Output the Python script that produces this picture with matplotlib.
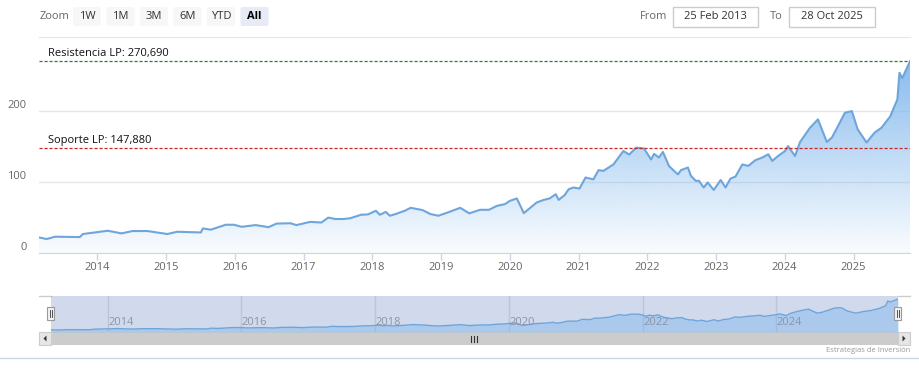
import numpy as np
import pandas as pd
import matplotlib
matplotlib.use("Agg")
import matplotlib.pyplot as plt
import matplotlib.dates as mdates
import matplotlib.transforms as mtransforms
from matplotlib.patches import Rectangle, FancyBboxPatch

plt.rcParams['font.family'] = ['Open Sans', 'DejaVu Sans']

# price series
dates = [
    "2013-02-25", "2013-04-07", "2013-05-21", "2013-09-30", "2013-10-16",
    "2014-02-25", "2014-05-10", "2014-07-07", "2014-09-24", "2015-01-08",
    "2015-03-01", "2015-07-05", "2015-07-16", "2015-08-27", "2015-11-14",
    "2015-12-27", "2016-02-07", "2016-04-21", "2016-06-29", "2016-08-10",
    "2016-10-23", "2016-11-24", "2017-02-06", "2017-04-05", "2017-05-12",
    "2017-06-18", "2017-07-30", "2017-09-05", "2017-11-02", "2017-12-09",
    "2018-01-20", "2018-02-10", "2018-03-14", "2018-04-04", "2018-05-05",
    "2018-06-22", "2018-07-24", "2018-09-25", "2018-11-06", "2018-12-18",
    "2019-02-14", "2019-04-13", "2019-05-31", "2019-07-27", "2019-09-13",
    "2019-10-25", "2019-12-07", "2020-01-02", "2020-02-08", "2020-03-16",
    "2020-05-24", "2020-06-30", "2020-07-31", "2020-09-02", "2020-09-17",
    "2020-10-19", "2020-11-09", "2020-12-05", "2021-01-06", "2021-02-07",
    "2021-03-21", "2021-04-17", "2021-05-13", "2021-07-05", "2021-08-27",
    "2021-09-27", "2021-11-03", "2021-12-15", "2022-01-21", "2022-02-06",
    "2022-03-04", "2022-03-25", "2022-04-26", "2022-05-23", "2022-06-13",
    "2022-06-29", "2022-08-05", "2022-08-21", "2022-09-16", "2022-10-02",
    "2022-10-28", "2022-11-18", "2022-12-20", "2023-01-26", "2023-02-21",
    "2023-03-19", "2023-04-15", "2023-05-21", "2023-06-22", "2023-07-29",
    "2023-09-04", "2023-10-06", "2023-10-27", "2023-11-27", "2024-01-03",
    "2024-01-19", "2024-02-25", "2024-03-23", "2024-05-15", "2024-06-26",
    "2024-08-12", "2024-09-08", "2024-10-10", "2024-11-16", "2024-12-23",
    "2025-01-23", "2025-03-11", "2025-04-23", "2025-05-30", "2025-07-15",
    "2025-08-22", "2025-09-02", "2025-09-17", "2025-10-28",
]
values = [
    22, 19.7, 23, 22.5, 26.8,
    31.4, 27.7, 31, 31, 26.8,
    30, 29, 34.7, 32.9, 39.9,
    39.9, 37, 39.4, 36.5, 41.5,
    42, 39.4, 44, 43, 50,
    48, 48, 49, 54, 54.5,
    59.6, 54, 58, 52.6, 55,
    59.6, 63.8, 60.6, 55, 52.6,
    58, 63.8, 56, 61, 61,
    66.6, 69, 73.7, 77, 56.3,
    71.4, 75, 77, 83, 75,
    81.7, 90, 92.5, 91, 106.6,
    104, 117, 116, 125, 144,
    139, 148.8, 147.5, 132, 140,
    134.8, 142.7, 123, 116, 111,
    117, 120.7, 109, 101.8, 102,
    92.5, 99.6, 89, 103, 92.5,
    105, 108, 125, 123, 131,
    134.8, 139.4, 130, 137, 144,
    151, 137, 156.8, 177, 188.7,
    156.8, 163, 179, 198, 200.4,
    174.6, 156, 170, 177, 193,
    217, 254.5, 247, 270.69,
]

years = list(range(2014, 2026))
nav_years = [2014, 2016, 2018, 2020, 2022, 2024]
y_ticks = [0, 100, 200]
resistencia = 270.690
soporte = 147.880
zoom_buttons = ["1W", "1M", "3M", "6M", "YTD", "All"]
date_from = "25 Feb 2013"
date_to = "28 Oct 2025"

W, H = 920, 374
fig = plt.figure(figsize=(9.2, 3.74), dpi=100)

def px(x0, y0, x1, y1):
    return [x0 / W, 1 - y1 / H, (x1 - x0) / W, (y1 - y0) / H]

deco = fig.add_axes([0, 0, 1, 1], zorder=0)
deco.set_xlim(0, W)
deco.set_ylim(H, 0)
deco.axis('off')

x = mdates.date2num(pd.to_datetime(dates))
v = np.array(values)

# ---- main chart
ax = fig.add_axes(px(39, 37, 910, 253), zorder=2)
ax.set_facecolor('none')
ax.set_xlim(x[0], x[-1])
ax.set_ylim(0, 305)
for yv in y_ticks:
    ax.axhline(yv, color='#e6e6e6', lw=1, zorder=0)

poly = ax.fill_between(x, v, 0, color='none', lw=0)
grad = np.zeros((256, 1, 4))
grad[:, 0, :3] = np.array([124, 181, 236]) / 255
grad[:, 0, 3] = np.linspace(0.9, 0.04, 256)
im = ax.imshow(grad, extent=[x[0], x[-1], 0, v.max()], origin='upper',
               aspect='auto', interpolation='bicubic', zorder=1)
im.set_clip_path(poly.get_paths()[0], transform=ax.transData)
ax.plot(x, v, color='#6ea6dc', lw=1.5, zorder=3)

for lvl, col, name in [(resistencia, '#2e7d32', 'Resistencia LP'),
                       (soporte, '#c62828', 'Soporte LP')]:
    ax.axhline(lvl, color=col, lw=0.9, ls=(0, (2.5, 1.5)), zorder=4)
    tr = mtransforms.offset_copy(ax.transData, fig=fig, x=9, y=2, units='dots')
    ax.text(x[0], lvl, f"{name}: {lvl:.3f}".replace('.', ','), transform=tr,
            fontsize=8, color='#111111', va='bottom', ha='left', zorder=5)

ax.set_yticks(y_ticks)
ax.set_yticklabels([str(t) for t in y_ticks])
for lab in ax.get_yticklabels():
    lab.set_va('bottom')
ax.tick_params(axis='y', length=0, pad=9, labelsize=8, labelcolor='#666666')
year_pos = mdates.date2num(pd.to_datetime([f"{y}-01-01" for y in years]))
ax.set_xticks(year_pos)
ax.set_xticklabels([str(y) for y in years])
ax.tick_params(axis='x', length=5, width=1, color='#ccd6eb', pad=1.5,
               labelsize=8, labelcolor='#666666')
for s in ['left', 'right']:
    ax.spines[s].set_visible(False)
ax.spines['top'].set_color('#e6e6e6')
ax.spines['bottom'].set_color('#ccd6eb')

# ---- navigator
nav = fig.add_axes(px(51, 296, 898, 332), zorder=2)
nav.set_xlim(x[0], x[-1])
nav.set_ylim(4, 295)
nav.set_facecolor((102 / 255, 133 / 255, 194 / 255, 0.3))
nav_pos = mdates.date2num(pd.to_datetime([f"{y}-01-01" for y in nav_years]))
for p, y in zip(nav_pos, nav_years):
    nav.axvline(p, color='#bcc5da', lw=1, zorder=0)
    nav.text(p, 0.12, str(y), transform=nav.get_xaxis_transform(),
             fontsize=8, color='#8c94a6', ha='left', va='bottom')
    nav.texts[-1].set_x(p + 3)
nav.fill_between(x, v, 4, color='#7cb5ec', alpha=0.45, lw=0, zorder=1)
nav.plot(x, v, color='#6ea6dc', lw=1, zorder=2)
nav.set_xticks([])
nav.set_yticks([])
for s in nav.spines.values():
    s.set_visible(False)

# ---- decorations in pixel space
deco.text(40, 16, "Zoom", fontsize=8, color='#666666', va='center', ha='left')
bx = [73, 106.5, 140, 173.5, 207, 240.5]
for b, lab in zip(bx, zoom_buttons):
    sel = lab == "All"
    deco.add_patch(FancyBboxPatch((b, 7), 28, 19, boxstyle="round,pad=0,rounding_size=2",
                                  fc='#e6ebf5' if sel else '#f7f7f7', ec='none'))
    deco.text(b + 14, 16.5, lab, fontsize=8, ha='center', va='center',
              color='#000000' if sel else '#333333',
              fontweight='bold' if sel else 'normal')

deco.text(667, 16, "From", fontsize=8, color='#666666', ha='right', va='center')
deco.add_patch(Rectangle((673, 6.5), 85, 20, fc='white', ec='#cccccc', lw=1))
deco.text(715.5, 16.5, date_from, fontsize=8, color='#333333', ha='center', va='center')
deco.text(783, 16, "To", fontsize=8, color='#666666', ha='right', va='center')
deco.add_patch(Rectangle((789, 6.5), 86, 20, fc='white', ec='#cccccc', lw=1))
deco.text(832, 16.5, date_to, fontsize=8, color='#333333', ha='center', va='center')

# navigator outline + scrollbar
deco.plot([39, 51], [296, 296], color='#cccccc', lw=1)
deco.plot([898, 910], [296, 296], color='#cccccc', lw=1)
deco.add_patch(Rectangle((39, 332), 871, 13, fc='#f2f2f2', ec='none'))
deco.add_patch(Rectangle((51, 332), 847, 13, fc='#cccccc', ec='none'))
deco.add_patch(Rectangle((39, 332), 12, 13, fc='#e6e6e6', ec='#cccccc', lw=0.8))
deco.add_patch(Rectangle((898, 332), 12, 13, fc='#e6e6e6', ec='#cccccc', lw=0.8))
deco.add_patch(plt.Polygon([[46.5, 335.5], [46.5, 341.5], [43.5, 338.5]], fc='#333333'))
deco.add_patch(plt.Polygon([[902.5, 335.5], [902.5, 341.5], [905.5, 338.5]], fc='#333333'))
for dx in (-3, 0, 3):
    deco.plot([474.5 + dx, 474.5 + dx], [335.5, 341.5], color='#333333', lw=0.8)

hd = fig.add_axes([0, 0, 1, 1], zorder=3)
hd.set_xlim(0, W)
hd.set_ylim(H, 0)
hd.axis('off')
for hx in (51, 898):
    hd.add_patch(Rectangle((hx - 3.5, 307), 7, 13, fc='#f2f2f2', ec='#999999', lw=0.8))
    for dx in (-1, 1):
        hd.plot([hx + dx, hx + dx], [310, 317], color='#333333', lw=0.6)

deco.text(910, 350, "Estrategias de Inversión", fontsize=5.5, color='#999999',
          ha='right', va='center')
deco.plot([0, 920], [357.5, 357.5], color='#ccd6eb', lw=1)

fig.savefig("out.png", dpi=100)
